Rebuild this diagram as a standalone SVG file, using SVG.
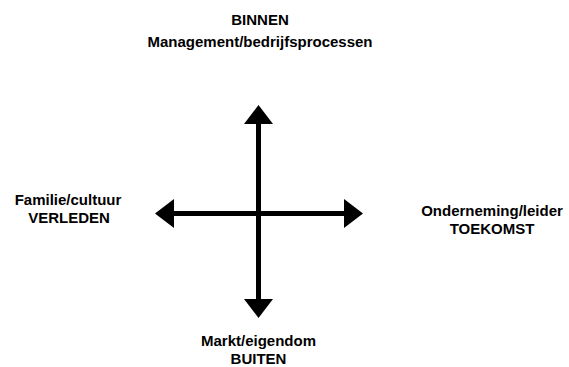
<svg xmlns="http://www.w3.org/2000/svg" width="569" height="367" viewBox="0 0 569 367">
<style>
text{font-family:"Liberation Sans",Arial,sans-serif;font-weight:bold;font-size:15px;fill:#000;text-anchor:middle}
.axis{stroke:#000;stroke-width:5;fill:none}
</style>
<defs>
<marker id="head" markerUnits="userSpaceOnUse" markerWidth="20" markerHeight="30" refX="0" refY="14.5" orient="auto-start-reverse" overflow="visible">
<path d="M0,0 L19,14.5 L0,29 Z" fill="#000"/>
</marker>
</defs>
<rect width="569" height="367" fill="#fff"/>
<g id="connectors">
<line class="axis" x1="258.5" y1="124" x2="258.5" y2="299" marker-start="url(#head)" marker-end="url(#head)"/>
<line class="axis" x1="174" y1="213.5" x2="344" y2="213.5" marker-start="url(#head)" marker-end="url(#head)"/>
</g>
<g id="top">
<text x="260" y="25">BINNEN</text>
<text x="260" y="46.5">Management/bedrijfsprocessen</text>
</g>
<g id="left">
<text x="68" y="204.5">Familie/cultuur</text>
<text x="69" y="222.5">VERLEDEN</text>
</g>
<g id="right">
<text x="492" y="215.5">Onderneming/leider</text>
<text x="492" y="233.5">TOEKOMST</text>
</g>
<g id="bottom">
<text x="258.5" y="345.5">Markt/eigendom</text>
<text x="258.5" y="363.5">BUITEN</text>
</g>
</svg>
